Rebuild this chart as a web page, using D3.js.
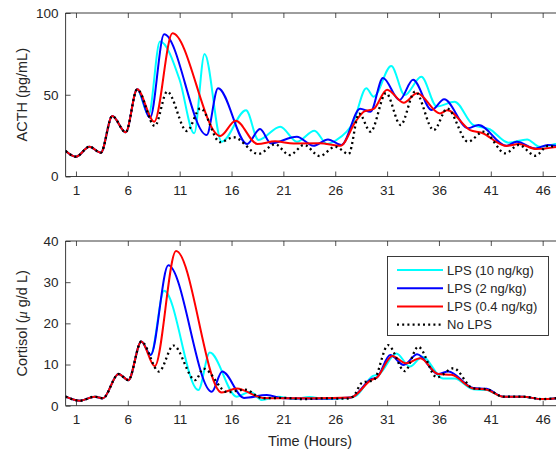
<!DOCTYPE html>
<html>
<head>
<meta charset="utf-8">
<script src="https://cdn.jsdelivr.net/npm/d3@7"></script>
<style>
  body { margin: 0; background: #fff; }
  svg { font-family: 'Liberation Sans', Arial, sans-serif; }
</style>
</head>
<body>
<svg id="chart" width="556" height="459"></svg>
<script>
// ---- data: [hour, value] knots ----
const xTicks = [1, 6, 11, 16, 21, 26, 31, 36, 41, 46]
const acthTicks = [0, 50, 100]
const cortTicks = [0, 10, 20, 30, 40]
const seriesNames = ['LPS (10 ng/kg)', 'LPS (2 ng/kg)', 'LPS (0.4 ng/kg)', 'No LPS']

const acthStart = [[0, 15.6], [1, 12.1], [2.3, 18.2], [3.4, 14.6], [4.5, 37], [5.8, 27], [6.9, 53.3]]
const acthLps10 = [[8.0, 37.6], [9.1, 82.5], [11, 59], [12.4, 26.4], [13.4, 75], [15.05, 21.3], [17.4, 40.5],
  [18.6, 22.3], [20.7, 30.5], [22.3, 21.3], [24.0, 28], [25.2, 19.9], [26.1, 22.3], [27.1, 27.4], [27.7, 32.5],
  [29.0, 54], [29.7, 48.8], [31.4, 67.6], [32.7, 49.8], [34.3, 61], [35.8, 42.8], [37.5, 45.7], [39.3, 31.5],
  [40.9, 28.9], [42.7, 20.7], [44.5, 22.7], [45.7, 18.2], [48, 21.5]]
const acthLps2 = [[8.15, 36], [9.5, 87], [13.6, 25.4], [14.7, 54], [17.5, 19.9], [18.75, 29], [19.8, 20.3],
  [22.3, 24.3], [23.9, 18.8], [25.3, 22.7], [26.6, 19.3], [28.4, 41.4], [29.4, 39.6], [30.6, 60.3], [32.2, 46.8],
  [33.5, 59.2], [35.3, 40.7], [36.5, 47.2], [38.8, 29.5], [39.8, 31.5], [42.5, 18.8], [43.5, 21.3], [45.3, 17.2],
  [46.5, 19.3], [48, 18]]
const acthLps04 = [[8.55, 33.5], [10.3, 87.6], [14.9, 24.8], [16.4, 34.1], [18.5, 19.9], [20.2, 21.5],
  [22, 20.2], [24.5, 20.3], [26.5, 18.8], [28, 34], [28.8, 39.8], [29.7, 41.3], [31, 53.1], [32.6, 45.1],
  [33.9, 50.9], [36.1, 38.6], [36.8, 40.5], [39, 28.4], [40.1, 26.8], [42.5, 18.7], [43.7, 19.9], [45.4, 16.8],
  [48, 18.8]]
const acthNoLps = [[8.6, 30.9], [9.8, 51.9], [11.7, 27.8], [13, 41.7], [14.9, 21], [16.2, 24], [18.6, 13.8],
  [20.2, 19.7], [21.6, 13.1], [23.0, 19.3], [24.5, 12.5], [26, 18.2], [27.3, 13.8], [28.3, 38.5], [29.4, 27.4],
  [30.9, 51], [32.3, 31.5], [33.7, 52], [35.5, 28.4], [36.8, 41.5], [38.8, 21.3], [40.3, 27.4], [42.4, 14.2],
  [43.7, 19.3], [45.3, 12.7], [46.5, 18.7], [48, 16]]

const cortStart = [[0, 2.2], [1.4, 1.2], [2.8, 2.2], [3.6, 1.8], [5.1, 7.7], [6.05, 6.2], [7.3, 15.6]]
const cortLps10 = [[8.2, 12.3], [9.5, 27.9], [12.8, 3.8], [13.9, 12.9], [16.5, 2.2], [17.8, 3.4], [18.9, 1.4],
  [20.5, 2.2], [22, 1.6], [23.5, 2.1], [25, 1.6], [27, 1.8], [28, 2.4], [29.6, 7.2], [30.2, 7.6], [31.9, 12.7],
  [33.2, 9.5], [34.4, 11.9], [36.4, 6.6], [37.5, 6.6], [39.3, 4.0], [40.6, 3.8], [42.2, 2.2], [44, 2.2],
  [46, 1.6], [48, 2.0]]
const cortLps2 = [[8.2, 12.3], [9.9, 34.1], [14.1, 3.4], [15.1, 8.3], [17.2, 1.9], [19.4, 2.6], [21, 1.8],
  [24, 1.7], [27.5, 2], [29.5, 6.5], [30, 6.8], [31.3, 12.3], [32.6, 9.9], [33.9, 12.5], [35.9, 7.7],
  [36.9, 8.3], [39.3, 4.3], [40.6, 4.1], [42.2, 2.2], [44.1, 2.2], [45.9, 1.6], [48, 2.0]]
const cortLps04 = [[8.6, 9.6], [10.65, 37.6], [15.05, 3.2], [16.5, 4.2], [19, 1.9], [21, 1.8], [24, 1.8],
  [27.5, 2], [29.5, 6.3], [30, 6.8], [31.5, 12.1], [32.8, 10.3], [34.2, 11.5], [35.9, 7.7], [37.2, 7.5],
  [39.3, 4.2], [40.6, 3.9], [42.2, 2.2], [44.1, 2.2], [45.9, 1.6], [48, 2.0]]
const cortNoLps = [[9.0, 8.3], [10.4, 14.6], [12.5, 6.2], [13.3, 9], [15.6, 3.3], [17.3, 3.9], [19, 1.8],
  [21, 1.9], [23, 1.6], [25, 1.8], [27, 1.7], [27.7, 2.2], [28.6, 5.6], [29.7, 6.2], [31.1, 14.7], [32.7, 8.4],
  [34, 14.3], [35.8, 6.9], [37.4, 9.1], [39.3, 4.2], [40.6, 4.0], [42.2, 2.2], [44.1, 2.2], [45.9, 1.6],
  [48, 2.0]]

// ---- styles ----
const styles = [
  { color: '#00ffff', dash: null },
  { color: '#0000ff', dash: null },
  { color: '#ff0000', dash: null },
  { color: '#000000', dash: '2,3.2' }
]
const AXISCOL = '#262626'

const svg = d3.select('svg#chart')
const x = d3.scaleLinear().domain([0, 48]).range([65.6, 563.4])

function drawPanel (opts) {
  const y = d3.scaleLinear().domain(opts.domain).range([opts.bottom, opts.top])
  const g = svg.append('g')

  const clipId = `clip${opts.id}`
  g.append('clipPath').attr('id', clipId)
    .append('rect')
    .attr('x', x(0)).attr('y', opts.top)
    .attr('width', x(48) - x(0)).attr('height', opts.bottom - opts.top)

  const line = d3.line()
    .x(d => x(d[0]))
    .y(d => y(d[1]))
    .curve(d3.curveMonotoneX)

  const lines = g.append('g').attr('clip-path', `url(#${clipId})`)
  opts.series.forEach((s, i) => {
    lines.append('path')
      .attr('d', line(opts.start.concat(s)))
      .attr('fill', 'none')
      .attr('stroke', styles[i].color)
      .attr('stroke-width', i === 3 ? 2.3 : 2)
      .attr('stroke-dasharray', styles[i].dash)
      .attr('stroke-linecap', i === 3 ? 'butt' : 'round')
  })

  // box lines (right edge falls outside the window)
  const bx = g.append('g').attr('stroke', AXISCOL).attr('stroke-width', 0.9).attr('fill', 'none')
  bx.append('line').attr('x1', x(0)).attr('x2', x(48)).attr('y1', opts.top).attr('y2', opts.top)
  bx.append('line').attr('x1', x(0)).attr('x2', x(48)).attr('y1', opts.bottom).attr('y2', opts.bottom)
  bx.append('line').attr('x1', x(0)).attr('x2', x(0)).attr('y1', opts.top).attr('y2', opts.bottom)

  // x axis (ticks pointing inward) + mirrored ticks on top
  const xa = g.append('g')
    .attr('transform', `translate(0,${opts.bottom})`)
    .call(d3.axisBottom(x).tickValues(xTicks).tickSizeInner(-5).tickSizeOuter(0).tickPadding(9))
  const xt = g.append('g')
    .attr('transform', `translate(0,${opts.top})`)
    .call(d3.axisTop(x).tickValues(xTicks).tickSizeInner(-5).tickSizeOuter(0).tickFormat(''))
  const ya = g.append('g')
    .attr('transform', `translate(${x(0)},0)`)
    .call(d3.axisLeft(y).tickValues(opts.ticks).tickSizeInner(-5).tickSizeOuter(0).tickPadding(7))

  ;[xa, xt, ya].forEach(a => {
    a.select('.domain').remove()
    a.selectAll('line').attr('stroke', AXISCOL).attr('stroke-width', 0.8)
    a.selectAll('text')
      .attr('fill', AXISCOL)
      .style('font-size', '13.5px')
      .style('font-family', "'Liberation Sans', Arial, sans-serif")
  })

  const lab = svg.append('text')
    .attr('transform', `translate(27,${(opts.top + opts.bottom) / 2}) rotate(-90)`)
    .attr('text-anchor', 'middle')
    .attr('fill', AXISCOL)
    .style('font-size', '14.5px')
  opts.label(lab)
}

drawPanel({
  id: 'acth',
  domain: [0, 100],
  top: 13,
  bottom: 176.5,
  ticks: acthTicks,
  start: acthStart,
  series: [acthLps10, acthLps2, acthLps04, acthNoLps],
  label: t => t.text('ACTH (pg/mL)')
})

drawPanel({
  id: 'cort',
  domain: [0, 40],
  top: 241,
  bottom: 405.7,
  ticks: cortTicks,
  start: cortStart,
  series: [cortLps10, cortLps2, cortLps04, cortNoLps],
  label: t => {
    t.append('tspan').text('Cortisol (')
    t.append('tspan').text('\u03bc').style('font-style', 'italic').style('font-family', "'Liberation Serif', serif")
    t.append('tspan').text(' g/d L)')
  }
})

svg.append('text')
  .attr('x', 310).attr('y', 446)
  .attr('text-anchor', 'middle')
  .attr('fill', AXISCOL)
  .style('font-size', '14.5px')
  .text('Time (Hours)')

// legend
const legend = svg.append('g')
legend.append('rect')
  .attr('x', 387.5).attr('y', 256.5).attr('width', 161).attr('height', 79)
  .attr('fill', '#fff').attr('stroke', AXISCOL).attr('stroke-width', 0.9)
seriesNames.forEach((name, i) => {
  const yy = 270 + i * 18.2
  legend.append('line')
    .attr('x1', 397).attr('x2', 443).attr('y1', yy).attr('y2', yy)
    .attr('stroke', styles[i].color)
    .attr('stroke-width', i === 3 ? 2.3 : 2)
    .attr('stroke-dasharray', styles[i].dash)
  legend.append('text')
    .attr('x', 447).attr('y', yy + 4.6)
    .attr('fill', AXISCOL)
    .style('font-size', '13px')
    .text(name)
})
</script>
</body>
</html>
